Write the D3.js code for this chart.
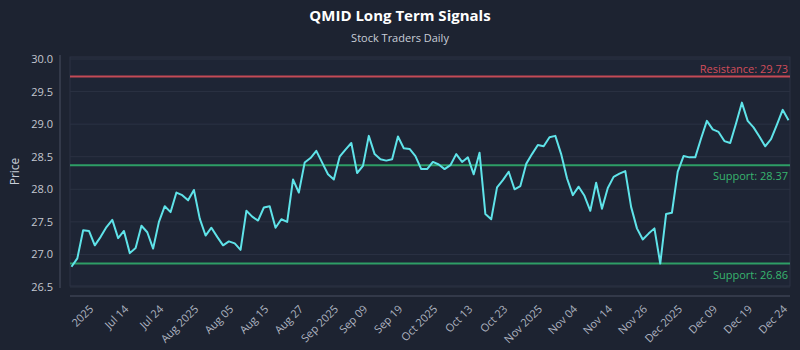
<!DOCTYPE html>
<html>
<head>
<meta charset="utf-8">
<script src="https://cdn.jsdelivr.net/npm/d3@7"></script>
<style>
  body { margin: 0; background: #1d2331; }
  svg { display: block; font-family: "Open Sans", sans-serif; }
</style>
</head>
<body>
<script>
// closing prices, one per trading day
var prices = [
  26.81, 26.94, 27.37, 27.36, 27.14, 27.27, 27.42, 27.53, 27.25, 27.36,
  27.02, 27.10, 27.44, 27.34, 27.09, 27.50, 27.74, 27.65, 27.95, 27.91,
  27.83, 27.99, 27.55, 27.29, 27.41, 27.27, 27.14, 27.20, 27.17, 27.07,
  27.67, 27.58, 27.52, 27.72, 27.74, 27.41, 27.54, 27.50, 28.15, 27.95,
  28.41, 28.48, 28.59, 28.41, 28.23, 28.15, 28.50, 28.61, 28.71, 28.25,
  28.36, 28.82, 28.54, 28.46, 28.44, 28.46, 28.81, 28.63, 28.62, 28.51,
  28.31, 28.31, 28.42, 28.38, 28.31, 28.37, 28.54, 28.42, 28.49, 28.23,
  28.56, 27.62, 27.54, 28.03, 28.14, 28.27, 28.00, 28.05, 28.39, 28.54,
  28.68, 28.66, 28.80, 28.82, 28.54, 28.17, 27.91, 28.04, 27.90, 27.67,
  28.10, 27.70, 28.02, 28.19, 28.24, 28.28, 27.73, 27.40, 27.23, 27.32,
  27.40, 26.86, 27.62, 27.64, 28.27, 28.51, 28.49, 28.49, 28.78, 29.05,
  28.92, 28.88, 28.74, 28.71, 29.01, 29.33, 29.05, 28.95, 28.81, 28.66,
  28.77, 28.99, 29.22, 29.06
];

// x tick labels and the trading day index they sit on
var tickLabels = ["2025", "Jul 14", "Jul 24", "Aug 2025", "Aug 05", "Aug 15", "Aug 27",
  "Sep 2025", "Sep 09", "Sep 19", "Oct 2025", "Oct 13", "Oct 23", "Nov 2025", "Nov 04",
  "Nov 14", "Nov 26", "Dec 2025", "Dec 09", "Dec 19", "Dec 24"];
var tickIndex = [3, 9, 15, 21, 27, 33, 39, 45, 50, 56, 62, 68, 74, 80, 86, 92, 98, 104, 110, 116, 122];

var yTicks = [26.5, 27.0, 27.5, 28.0, 28.5, 29.0, 29.5, 30.0];

var resistance = [29.73];
var supports = [28.37, 26.86];

var width = 800, height = 350;
var plot = {left: 70, right: 790, top: 57, bottom: 286};

var svg = d3.select("body").append("svg")
  .attr("width", width)
  .attr("height", height);

svg.append("rect")
  .attr("width", width).attr("height", height)
  .attr("fill", "#1d2331");

// scales
var x = d3.scaleLinear().domain([0, prices.length - 1]).range([plot.left + 1.5, plot.right - 1.5]);
var y = d3.scaleLinear().domain([26.5, 30.0]).range([plot.bottom + 1, plot.top + 2]);

// plot area
svg.append("rect")
  .attr("x", plot.left).attr("y", plot.top)
  .attr("width", plot.right - plot.left).attr("height", plot.bottom - plot.top)
  .attr("fill", "#1e2535")
  .attr("stroke", "#2c3344");

// gridlines
svg.append("g")
  .selectAll("line")
  .data(yTicks)
  .enter().append("line")
  .attr("x1", plot.left).attr("x2", plot.right)
  .attr("y1", function(d) { return y(d); })
  .attr("y2", function(d) { return y(d); })
  .attr("stroke", "#2b3243")
  .attr("stroke-width", 1);

// title
svg.append("text")
  .attr("x", width / 2).attr("y", 21)
  .attr("text-anchor", "middle")
  .attr("fill", "#ffffff")
  .style("font-size", "15px")
  .style("font-weight", "bold")
  .text("QMID Long Term Signals");

svg.append("text")
  .attr("x", width / 2).attr("y", 42)
  .attr("text-anchor", "middle")
  .attr("fill", "#c9ced8")
  .style("font-size", "11px")
  .text("Stock Traders Daily");

// y axis
var yAxis = svg.append("g")
  .attr("transform", "translate(60,0)")
  .call(d3.axisLeft(y).tickValues(yTicks).tickFormat(d3.format(".1f")).tickSize(0).tickPadding(7));
yAxis.select(".domain").attr("stroke", "#4a5163").attr("d", "M0," + (plot.top - 2) + "V" + (plot.bottom + 2));
yAxis.selectAll("text")
  .attr("fill", "#c3c7d0")
  .style("font-size", "11px")
  .style("font-family", "Open Sans, sans-serif");

svg.append("text")
  .attr("transform", "translate(19," + ((plot.top + plot.bottom) / 2) + ") rotate(-90)")
  .attr("text-anchor", "middle")
  .attr("fill", "#c9ced8")
  .style("font-size", "12px")
  .text("Price");

// x axis
var xAxis = svg.append("g")
  .attr("transform", "translate(0,296)")
  .call(d3.axisBottom(x).tickValues(tickIndex)
    .tickFormat(function(d, i) { return tickLabels[i]; })
    .tickSize(0));
xAxis.select(".domain").attr("stroke", "#4a5163").attr("d", "M" + plot.left + ",0H" + plot.right);
xAxis.selectAll("text")
  .attr("fill", "#aeb4c0")
  .style("font-size", "11px")
  .style("font-family", "Open Sans, sans-serif")
  .attr("text-anchor", "end")
  .attr("x", 0)
  .attr("y", 0)
  .attr("dx", 0)
  .attr("dy", "0.35em")
  .attr("transform", "translate(2,11) rotate(-45)");

// resistance and support levels
svg.append("g").selectAll("line")
  .data(resistance)
  .enter().append("line")
  .attr("x1", plot.left).attr("x2", plot.right)
  .attr("y1", function(d) { return y(d); })
  .attr("y2", function(d) { return y(d); })
  .attr("stroke", "#c44a56")
  .attr("stroke-width", 2);

svg.append("g").selectAll("text")
  .data(resistance)
  .enter().append("text")
  .attr("x", plot.right - 2)
  .attr("y", function(d) { return y(d) - 4; })
  .attr("text-anchor", "end")
  .attr("fill", "#d24d5b")
  .style("font-size", "11px")
  .text(function(d) { return "Resistance: " + d.toFixed(2); });

svg.append("g").selectAll("line")
  .data(supports)
  .enter().append("line")
  .attr("x1", plot.left).attr("x2", plot.right)
  .attr("y1", function(d) { return y(d); })
  .attr("y2", function(d) { return y(d); })
  .attr("stroke", "#2e9e66")
  .attr("stroke-width", 2);

svg.append("g").selectAll("text")
  .data(supports)
  .enter().append("text")
  .attr("x", plot.right - 2)
  .attr("y", function(d) { return y(d) + 15; })
  .attr("text-anchor", "end")
  .attr("fill", "#38b56f")
  .style("font-size", "11px")
  .text(function(d) { return "Support: " + d.toFixed(2); });

// price line
var valueline = d3.line()
  .x(function(d, i) { return x(i); })
  .y(function(d) { return y(d); });

svg.append("path")
  .datum(prices)
  .attr("fill", "none")
  .attr("stroke", "#5fe3e9")
  .attr("stroke-width", 2)
  .attr("stroke-linejoin", "round")
  .attr("d", valueline);
</script>
</body>
</html>
